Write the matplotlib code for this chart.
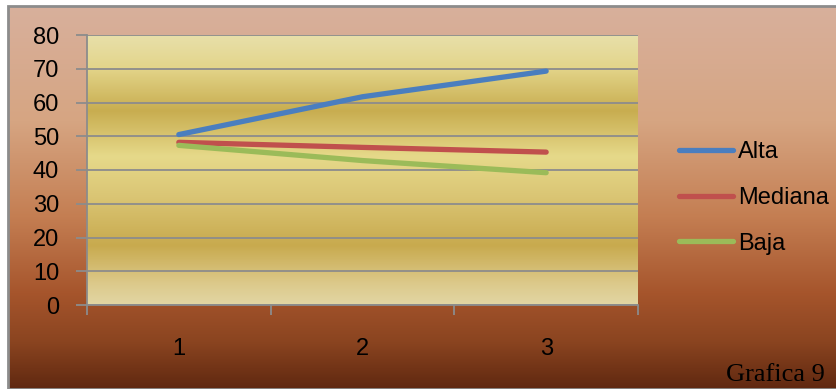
import numpy as np
import matplotlib
matplotlib.use("Agg")
import matplotlib.pyplot as plt
from matplotlib.colors import LinearSegmentedColormap
from matplotlib.patches import Rectangle
from matplotlib.lines import Line2D

categories = ['1', '2', '3']
series_names = ['Alta', 'Mediana', 'Baja']
alta = [50.5, 61.7, 69.3]
mediana = [48.2, 46.7, 45.3]
baja = [47.3, 42.8, 39.2]
colors = ['#4A7EBF', '#C0504D', '#9BBB59']
y_ticks = [0, 10, 20, 30, 40, 50, 60, 70, 80]

sans = ['Liberation Sans', 'DejaVu Sans']

W, H = 837, 389
fig = plt.figure(figsize=(W / 100, H / 100), dpi=100)
fig.patch.set_facecolor('white')

# outer frame with brown gradient
bg = fig.add_axes([8 / W, 0, 1 - 8 / W, 1 - 6 / H], zorder=0)
bg_cmap = LinearSegmentedColormap.from_list('bg', [
    (0.0, '#D8B09C'), (0.3, '#D6A582'), (0.55, '#C47E52'),
    (0.75, '#A6552C'), (0.88, '#8A4420'), (1.0, '#602810')])
bg.imshow(np.linspace(0, 1, 256).reshape(-1, 1), aspect='auto', cmap=bg_cmap,
          extent=[0, 1, 0, 1], origin='upper')
bg.set_xlim(0, 1)
bg.set_ylim(0, 1)
bg.axis('off')
fig.patches.append(Rectangle((8 / W, 0), 1, 1 - 6 / H, transform=fig.transFigure,
                             fill=False, edgecolor='#8C8C8C', linewidth=2, zorder=5))

ax = fig.add_axes([87 / W, (H - 305) / H, 551 / W, 270 / H], zorder=2)

# golden banded plot area
gold = LinearSegmentedColormap.from_list('gold', [
    (0.0, '#E2D6A4'), (0.08, '#DCC98A'), (0.22, '#C8AA4E'), (0.4, '#DAC574'),
    (0.55, '#E6D98A'), (0.72, '#C8AD50'), (0.88, '#E3D58A'), (1.0, '#E8E0AA')])
ax.imshow(np.linspace(0, 1, 256).reshape(-1, 1), aspect='auto', cmap=gold,
          extent=[-0.5, 2.5, 0, 80], origin='lower', zorder=0)

x = np.arange(len(categories))
for vals, col, name in zip([alta, mediana, baja], colors, series_names):
    ax.plot(x, vals, color=col, linewidth=3.8, solid_capstyle='round', label=name, zorder=3)

ax.set_xlim(-0.5, 2.5)
ax.set_ylim(0, 80)
ax.set_yticks(y_ticks)
ax.grid(axis='y', color='#8C8C8C', linewidth=1.3, zorder=1)
ax.set_axisbelow(False)
for s in ['top', 'right']:
    ax.spines[s].set_visible(False)
for s in ['left', 'bottom']:
    ax.spines[s].set_color('#8C8C8C')
    ax.spines[s].set_linewidth(1.3)

ax.set_xticks(x)
ax.set_xticklabels(categories)
ax.set_xticks([-0.5, 0.5, 1.5, 2.5], minor=True)
ax.tick_params(axis='x', which='major', length=0, pad=24)
ax.tick_params(axis='x', which='minor', length=7, color='#8C8C8C', width=1.3)
ax.tick_params(axis='y', length=8, color='#8C8C8C', width=1.3, pad=12)
for lab in ax.get_xticklabels() + ax.get_yticklabels():
    lab.set_family(sans)
    lab.set_fontsize(17)
    lab.set_color('black')

handles = [Line2D([0], [0], color=c, linewidth=3.8, solid_capstyle='round') for c in colors]
leg = fig.legend(handles, series_names, loc='center left', bbox_to_anchor=(679 / W, 1 - 198 / H),
                 frameon=False, borderpad=0, borderaxespad=0,
                 handlelength=2.3, handletextpad=0.2, labelspacing=1.0,
                 prop={'family': sans, 'size': 17})

fig.text(825 / W, 1 - 375 / H, 'Grafica 9', ha='right', va='center',
         family=['Liberation Serif', 'DejaVu Serif'], fontsize=19, color='black')

fig.savefig('out.png', dpi=100)
